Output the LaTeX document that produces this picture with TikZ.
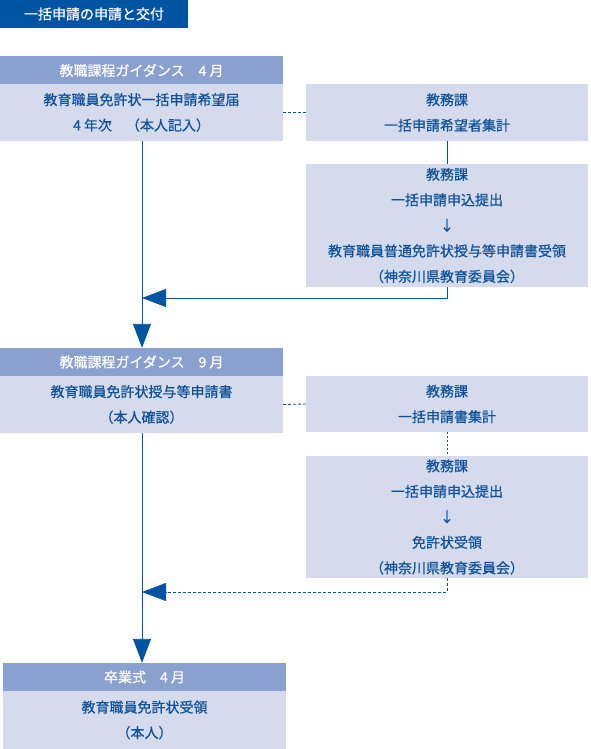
\documentclass[tikz,border=0pt]{standalone}
\usepackage{fontspec}
\setmainfont{Noto Sans CJK JP}[FakeBold=0.7]
\usetikzlibrary{arrows.meta}
\definecolor{flowD}{RGB}{0,84,162}
\definecolor{flowH}{RGB}{138,160,206}
\definecolor{flowL}{RGB}{213,219,236}
\definecolor{flowT}{RGB}{16,82,152}
\tikzset{
  titlebox/.style={fill=flowD, text=white, inner sep=0pt, font=\fontsize{14}{16}\selectfont},
  headbox/.style={fill=flowH, text=white, inner sep=0pt, minimum width=283pt, minimum height=28pt, font=\fontsize{14}{16}\selectfont},
  bodybox/.style={fill=flowL, text=flowT, inner sep=0pt, minimum width=283pt, align=center, font=\fontsize{14}{25.5}\selectfont},
  flow/.style={draw=flowD, line width=0.9pt},
  flowdash/.style={flow, dash pattern=on 3pt off 2pt},
  bigtip/.style={-{Triangle[length=24pt,width=18pt]}}
}
\begin{document}
\begin{tikzpicture}[x=1pt, y=-1pt]
\useasboundingbox (0,0) rectangle (590,749);
% title
\node[titlebox, minimum width=188pt, minimum height=28pt] (title) at (94,14) {一括申請の申請と交付};
% left column
\node[headbox] (h1) at (141.5,70.5) {教職課程ガイダンス　4 月};
\node[bodybox, minimum height=57pt] (b1) at (141.5,112.5) {教育職員免許状一括申請希望届\\4 年次　（本人記入）};
\node[headbox] (h2) at (141.5,362) {教職課程ガイダンス　9 月};
\node[bodybox, minimum height=57pt] (b2) at (141.5,404.5) {教育職員免許状授与等申請書\\（本人確認）};
\node[headbox] (h3) at (144.5,677) {卒業式　4 月};
\node[bodybox, minimum height=58pt] (b3) at (144.5,720) {教育職員免許状受領\\（本人）};
% right column
\node[bodybox, minimum width=282pt, minimum height=57pt] (r1) at (447,112.5) {教務課\\一括申請希望者集計};
\node[bodybox, minimum width=282pt, minimum height=123pt] (r2) at (447,225.5) {教務課\\一括申請申込提出\\↓\\教育職員普通免許状授与等申請書受領\\（神奈川県教育委員会）};
\node[bodybox, minimum width=282pt, minimum height=56pt] (r3) at (447,404) {教務課\\一括申請書集計};
\node[bodybox, minimum width=282pt, minimum height=122pt] (r4) at (447,517) {教務課\\一括申請申込提出\\↓\\免許状受領\\（神奈川県教育委員会）};
% joins on the main line
\coordinate (j1) at (142,298);
\coordinate (j2) at (142,592);
% connectors
\draw[flow, bigtip] (b1.south -| j1) -- (h2.north -| j1);
\draw[flow, bigtip] (b2.south -| j1) -- (h3.north -| j1);
\draw[flowdash] (b1.east) -- (r1.west);
\draw[flow] (r1.south) -- (r2.north);
\draw[flow, bigtip] (r2.south) |- (j1);
\draw[flowdash] (b2.east) -- (r3.west);
\draw[flow, dash pattern=on 2pt off 2pt] (r3.south) -- (r4.north);
\draw[flowdash, bigtip] (r4.south) |- (j2);
\end{tikzpicture}
\end{document}
